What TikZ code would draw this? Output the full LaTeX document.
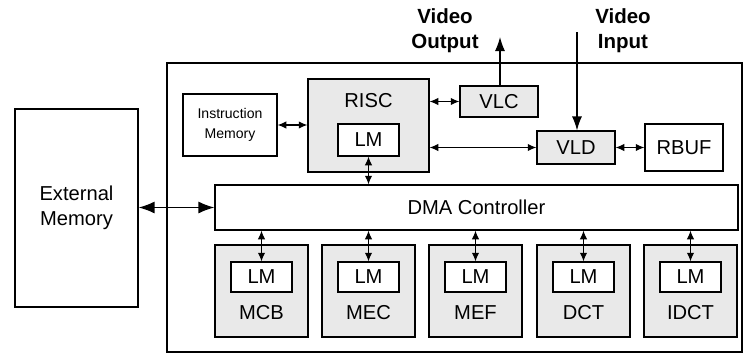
\documentclass[tikz,border=0pt]{standalone}
\usepackage{fontspec}
\setmainfont{Liberation Sans}
\usetikzlibrary{arrows.meta}

\tikzset{
  blk/.style={draw, line width=1pt, inner sep=0pt, align=center,
    font=\fontsize{17.2}{21.5}\selectfont},
  unit/.style={blk, fill=gray!17},
  lmbox/.style={blk, fill=white, minimum width=18.3mm, minimum height=9mm},
  txt/.style={inner sep=0pt, align=center, font=\fontsize{17.2}{21.5}\selectfont},
  io/.style={txt, font=\fontsize{17.5}{21.5}\selectfont\bfseries},
  biarrow/.style={line width=1pt,
    {Latex[length=2.6mm,width=2.2mm]}-{Latex[length=2.6mm,width=2.2mm]}},
  bigarrow/.style={line width=1.2pt,
    {Latex[length=4.8mm,width=3.6mm]}-{Latex[length=4.8mm,width=3.6mm]}},
  ioarrow/.style={line width=1pt, -{Latex[length=4.2mm,width=3mm]}}
}

\begin{document}
\begin{tikzpicture}[x=0.3mm,y=-0.3mm]
	\useasboundingbox (0,0) rectangle (743,354);

	% node definitions
	\node[blk, minimum width=172.5mm, minimum height=86.7mm] (chip) at (454.5,207.5) {};
	\node[blk, minimum width=36.9mm, minimum height=59.4mm] (extmem) at (76.5,208) {External\\Memory};
	\node[blk, minimum width=28.2mm, minimum height=18.6mm,
	      font=\fontsize{12}{17}\selectfont] (imem) at (230,125) {Instruction\\Memory};
	\node[unit, minimum width=36.3mm, minimum height=27.9mm] (risc) at (368.5,125.5) {};
	\node[txt] (risc_label) at (368.5,101) {RISC};
	\node[lmbox, minimum height=9.6mm] (risc_lm) at (368.5,140) {LM};
	\node[unit, minimum width=23.4mm, minimum height=9.3mm] (vlc) at (499,101.5) {VLC};
	\node[unit, minimum width=23.4mm, minimum height=9.9mm] (vld) at (576,147.5) {VLD};
	\node[blk, minimum width=23.4mm, minimum height=14.1mm] (rbuf) at (684,147.5) {RBUF};
	\node[blk, minimum width=156.9mm, minimum height=13.5mm] (dma) at (476.5,207.5) {DMA Controller};

	% processing units
	\foreach \name/\x in {MCB/261.5, MEC/368.5, MEF/475.5, DCT/583.5, IDCT/690.5} {
		\node[unit, minimum width=27.9mm, minimum height=27.6mm] (\name) at (\x,291) {};
		\node[lmbox] (\name_lm) at (\x,277) {LM};
		\node[txt] (\name_label) at (\x,313) {\name};
		\draw[biarrow] (dma.south -| \name_lm.north) -- (\name_lm.north);
	}

	% video in / out
	\node[io] (vout_label) at (445,30.5) {Video\\Output};
	\node[io] (vin_label) at (623,30.5) {Video\\Input};
	\coordinate (vout) at (500,37);
	\coordinate (vin) at (577,32);

	% arrows
	\draw[biarrow] (imem.east) -- (risc.west |- imem.east);
	\draw[biarrow] (risc.east |- vlc.west) -- (vlc.west);
	\draw[biarrow] (risc.east |- vld.west) -- (vld.west);
	\draw[biarrow] (vld.east) -- (rbuf.west);
	\draw[biarrow] (risc_lm.south) -- (risc_lm.south |- dma.north);
	\draw[bigarrow] (extmem.east |- dma.west) -- (dma.west);
	\draw[ioarrow] (vlc.north -| vout) -- (vout);
	\draw[ioarrow] (vin) -- (vin |- vld.north);

\end{tikzpicture}
\end{document}
